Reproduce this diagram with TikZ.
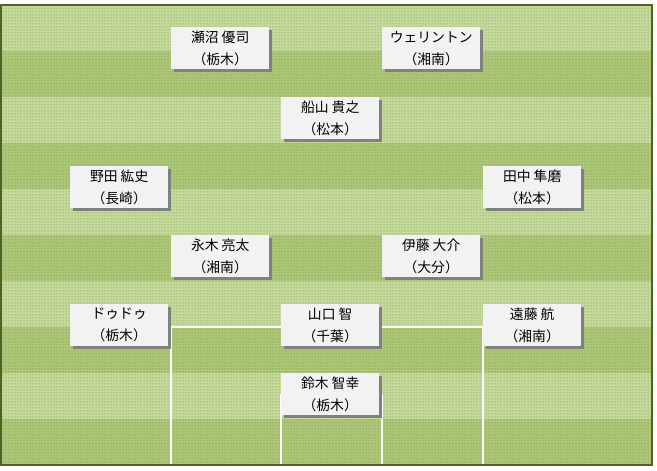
\documentclass[tikz,border=0pt]{standalone}
\usepackage{fontspec}
\newfontfamily\jpfont{Noto Sans CJK JP}
\usetikzlibrary{patterns, shadows}
\definecolor{pitchlight}{HTML}{C6D99C}
\definecolor{pitchdark}{HTML}{ADC67A}
\definecolor{pitchdot}{HTML}{6A8A30}
\definecolor{pitchedge}{HTML}{4F6228}
\definecolor{cardfill}{HTML}{F2F2F2}
\definecolor{cardshadow}{HTML}{808080}
\newcommand{\who}[2]{#1\\（#2）}

\begin{document}
\begin{tikzpicture}[x=1pt, y=-1pt,
  player/.style={anchor=north west, fill=cardfill, align=center,
    minimum width=98pt, minimum height=42pt, inner sep=0pt,
    font=\jpfont\fontsize{13.8}{22}\selectfont,
    general shadow={fill=cardshadow, shadow xshift=3pt, shadow yshift=-3pt}},
  pitchline/.style={white, line width=1.5pt}]
  \useasboundingbox (0,0) rectangle (657,471);

  % Stripes
  \foreach \i in {0,...,9} {
    \ifodd\i \def\stripe{pitchdark}\else \def\stripe{pitchlight}\fi
    \fill[\stripe] (1,{5+46*\i}) rectangle (652,{51+46*\i});
  }
  \fill[pattern=dots, pattern color=pitchdot] (1,5) rectangle (652,465);

  % Penalty and goal area
  \draw[pitchline] (171,465) -- (171,327) -- (483,327) -- (483,465);
  \draw[pitchline] (281,465) -- (281,395) -- (382,395) -- (382,465);

  \draw[pitchedge, line width=1.5pt] (1,5) rectangle (652,465);

  % Forwards
  \node[player] (seanuma) at (171,27) {\who{瀬沼 優司}{栃木}};
  \node[player] (wellington) at (382,27) {\who{ウェリントン}{湘南}};
  \node[player] (funayama) at (281,97) {\who{船山 貴之}{松本}};

  % Midfield
  \node[player] (noda) at (70,166) {\who{野田 紘史}{長崎}};
  \node[player] (tanaka) at (483,166) {\who{田中 隼磨}{松本}};
  \node[player] (nagaki) at (171,235) {\who{永木 亮太}{湘南}};
  \node[player] (ito) at (382,235) {\who{伊藤 大介}{大分}};

  % Defence
  \node[player] (dudu) at (70,304) {\who{ドゥドゥ}{栃木}};
  \node[player] (yamaguchi) at (281,304) {\who{山口 智}{千葉}};
  \node[player] (endo) at (483,304) {\who{遠藤 航}{湘南}};

  % Keeper
  \node[player] (suzuki) at (281,373) {\who{鈴木 智幸}{栃木}};
\end{tikzpicture}
\end{document}
